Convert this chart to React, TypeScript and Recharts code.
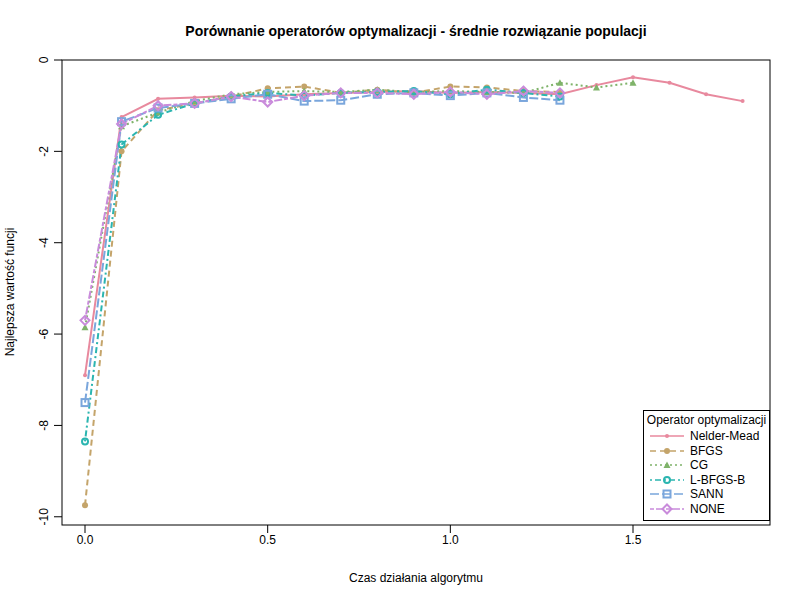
import { LineChart, Line, XAxis, YAxis } from 'recharts'

const times = [0, 0.1, 0.2, 0.3, 0.4, 0.5, 0.6, 0.7, 0.8, 0.9, 1.0, 1.1, 1.2, 1.3, 1.4, 1.5, 1.6, 1.7, 1.8]

const nelderMead = [-6.9, -1.25, -0.85, -0.82, -0.78, -0.8, -0.75, -0.72, -0.7, -0.68, -0.72, -0.7, -0.72, -0.75, -0.55, -0.38, -0.5, -0.75, -0.9]
const bfgs = [-9.75, -2.0, -1.1, -0.95, -0.8, -0.62, -0.58, -0.72, -0.65, -0.72, -0.58, -0.6, -0.68, -0.7]
const cg = [-5.85, -1.45, -1.15, -0.9, -0.75, -0.7, -0.68, -0.7, -0.65, -0.7, -0.68, -0.7, -0.72, -0.5, -0.6, -0.5]
const lbfgsb = [-8.35, -1.85, -1.2, -0.95, -0.8, -0.72, -0.78, -0.72, -0.7, -0.68, -0.75, -0.65, -0.72, -0.8]
const sann = [-7.5, -1.35, -1.05, -0.95, -0.85, -0.75, -0.9, -0.88, -0.75, -0.72, -0.78, -0.72, -0.82, -0.88]
const none = [-5.7, -1.4, -1.0, -0.95, -0.8, -0.92, -0.78, -0.72, -0.72, -0.75, -0.7, -0.75, -0.68, -0.72]

const xTicks = [0, 0.5, 1.0, 1.5]
const yTicks = [0, -2, -4, -6, -8, -10]

const data = times.map((t, i) => ({
  t,
  nm: nelderMead[i],
  bfgs: bfgs[i],
  cg: cg[i],
  lbfgsb: lbfgsb[i],
  sann: sann[i],
  none: none[i],
}))

const series = [
  { key: 'nm', name: 'Nelder-Mead', color: '#E8899E', dash: undefined, shape: 'dot' },
  { key: 'bfgs', name: 'BFGS', color: '#C4A46A', dash: '6 4', shape: 'circle' },
  { key: 'cg', name: 'CG', color: '#7FB36A', dash: '2 3', shape: 'tri' },
  { key: 'lbfgsb', name: 'L-BFGS-B', color: '#2BB5B0', dash: '2 3 6 3', shape: 'ocircle' },
  { key: 'sann', name: 'SANN', color: '#7AA6DC', dash: '9 3', shape: 'square' },
  { key: 'none', name: 'NONE', color: '#C98BDB', dash: '4 2 8 2', shape: 'diamond' },
]

function Marker({ cx, cy, color, shape }: any) {
  if (cx == null || cy == null) return null
  const sw = 2
  if (shape === 'dot') return <circle cx={cx} cy={cy} r={2} fill={color} />
  if (shape === 'circle') return <circle cx={cx} cy={cy} r={3} fill={color} />
  if (shape === 'tri') return <path d={`M${cx},${cy - 3.5}L${cx + 3.5},${cy + 3}L${cx - 3.5},${cy + 3}Z`} fill={color} />
  if (shape === 'ocircle') return <circle cx={cx} cy={cy} r={3} fill="none" stroke={color} strokeWidth={sw} />
  if (shape === 'square') return <rect x={cx - 3.5} y={cy - 3.5} width={7} height={7} fill="none" stroke={color} strokeWidth={sw} />
  return <path d={`M${cx},${cy - 4.5}L${cx + 4.5},${cy}L${cx},${cy + 4.5}L${cx - 4.5},${cy}Z`} fill="none" stroke={color} strokeWidth={sw} />
}

function YTick({ x, y, payload }: any) {
  return (
    <text x={x - 4} y={y} transform={`rotate(-90 ${x - 4} ${y})`} textAnchor="middle" fontSize={12} fill="#000">
      {payload.value}
    </text>
  )
}

function LegendBox() {
  return (
    <div style={{ position: 'absolute', left: 643, top: 410, border: '1px solid #000', background: '#fff', width: 125, padding: '2px 0 4px 0', fontFamily: 'Arial, Liberation Sans, sans-serif', fontSize: 12 }}>
      <div style={{ textAlign: 'center', marginBottom: 2 }}>Operator optymalizacji</div>
      {series.map(s => (
        <div key={s.key} style={{ display: 'flex', alignItems: 'center', height: 14.5 }}>
          <svg width={42} height={14} style={{ marginLeft: 4 }}>
            <line x1={2} y1={7} x2={36} y2={7} stroke={s.color} strokeWidth={1.5} strokeDasharray={s.dash} />
            <Marker cx={19} cy={7} color={s.color} shape={s.shape} />
          </svg>
          <span>{s.name}</span>
        </div>
      ))}
    </div>
  )
}

export default function App() {
  return (
    <div style={{ position: 'absolute', left: 0, top: 0, width: 800, height: 600, background: '#fff', fontFamily: 'Arial, Liberation Sans, sans-serif' }}>
      <LineChart width={800} height={600} data={data} margin={{ top: 60, right: 30, bottom: 0, left: 0 }}>
        <XAxis
          dataKey="t"
          type="number"
          domain={[-0.063, 1.875]}
          ticks={xTicks}
          tickFormatter={v => v.toFixed(1)}
          axisLine={false}
          tickSize={8}
          tickLine={{ stroke: '#000' }}
          tick={{ fill: '#000', fontSize: 12 }}
          height={75}
          allowDataOverflow
        />
        <YAxis
          type="number"
          domain={[-10.18, 0]}
          ticks={yTicks}
          axisLine={false}
          tickSize={8}
          tickLine={{ stroke: '#000' }}
          tick={<YTick />}
          width={62}
          allowDataOverflow
        />
        {series.map(s => (
          <Line
            key={s.key}
            dataKey={s.key}
            name={s.name}
            stroke={s.color}
            strokeWidth={2}
            strokeDasharray={s.dash}
            type="linear"
            connectNulls={false}
            isAnimationActive={false}
            dot={(p: any) => <Marker key={`${s.key}-${p.index}`} cx={p.cx} cy={p.cy} color={s.color} shape={s.shape} />}
            activeDot={false}
          />
        ))}
        <rect x={62} y={60} width={708} height={465} fill="none" stroke="#000" />
        <text x={416} y={36} textAnchor="middle" fontWeight="bold" fontSize={14}>
          Porównanie operatorów optymalizacji - średnie rozwiązanie populacji
        </text>
        <text x={416} y={582} textAnchor="middle" fontSize={12}>Czas działania algorytmu</text>
        <text x={14} y={292} textAnchor="middle" fontSize={12} transform="rotate(-90 14 292)">Najlepsza wartość funcji</text>
      </LineChart>
      <LegendBox />
    </div>
  )
}
